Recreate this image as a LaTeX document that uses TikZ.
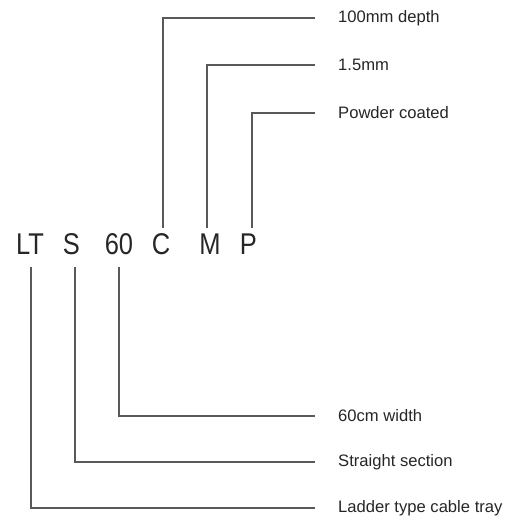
\documentclass[tikz,border=0pt]{standalone}
\usepackage{fontspec}
\setmainfont{Liberation Sans}
\begin{document}
\begin{tikzpicture}[x=1pt,y=1pt,
  codeletter/.style={inner sep=0pt, anchor=base, text=black!85, font=\fontsize{30}{30}\selectfont},
  labeltext/.style={inner sep=0pt, anchor=west, text=black!85, font=\fontsize{16.6}{18}\selectfont},
  leader/.style={draw=black!65, line width=1.4pt, shorten >=23pt}]
\useasboundingbox (0,0) rectangle (509,522);
% code letters (y = 522 - pixel y)
\node[codeletter] (LT) at (30,267) {\scalebox{0.85}[1]{LT}};
\node[codeletter] (S)  at (71.5,267) {\scalebox{0.85}[1]{S}};
\node[codeletter] (SX) at (119,267) {\scalebox{0.85}[1]{60}};
\node[codeletter] (C)  at (161,267) {\scalebox{0.85}[1]{C}};
\node[codeletter] (M)  at (210,267) {\scalebox{0.85}[1]{M}};
\node[codeletter] (P)  at (248.5,267) {\scalebox{0.85}[1]{P}};
% labels
\node[labeltext] (lC)  at (338,504) {100mm depth};
\node[labeltext] (lM)  at (338,457) {1.5mm};
\node[labeltext] (lP)  at (338,409) {Powder coated};
\node[labeltext] (lSX) at (338,106) {60cm width};
\node[labeltext] (lS)  at (338,60)  {Straight section};
\node[labeltext] (lLT) at (338,14)  {Ladder type cable tray};
% connector ends near the letters
\coordinate (cC)  at (163,294);
\coordinate (cM)  at (207,294);
\coordinate (cP)  at (252,294);
\coordinate (cSX) at (119,255);
\coordinate (cS)  at (75,255);
\coordinate (cLT) at (31,255);
\draw[leader] (cC) |- (lC.west);
\draw[leader] (cM) |- (lM.west);
\draw[leader] (cP) |- (lP.west);
\draw[leader] (cSX) |- (lSX.west);
\draw[leader] (cS) |- (lS.west);
\draw[leader] (cLT) |- (lLT.west);
\end{tikzpicture}
\end{document}
